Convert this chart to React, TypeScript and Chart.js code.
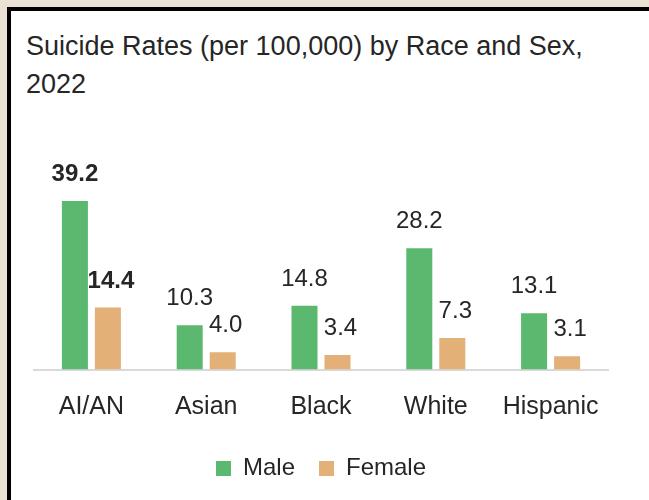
import React, { useEffect, useRef } from 'react';
import { Chart, registerables } from 'chart.js';

Chart.register(...registerables);

const categories = ['AI/AN', 'Asian', 'Black', 'White', 'Hispanic'];
const maleRates = [39.2, 10.3, 14.8, 28.2, 13.1];
const femaleRates = [14.4, 4.0, 3.4, 7.3, 3.1];
const seriesNames = ['Male', 'Female'];
const titleLines = ['Suicide Rates (per 100,000) by Race and Sex,', '2022'];
const highlightedCategories = ['AI/AN'];

const GREEN = '#5bb86f';
const TAN = '#e3b077';
const TEXT = '#262626';
const FONT = '"Liberation Sans", Arial, sans-serif';

const valueLabels = {
  id: 'valueLabels',
  afterDatasetsDraw(chart: any) {
    const ctx = chart.ctx;
    ctx.save();
    chart.data.datasets.forEach((ds: any, di: number) => {
      const meta = chart.getDatasetMeta(di);
      meta.data.forEach((bar: any, i: number) => {
        const v = ds.data[i] as number;
        const bold = highlightedCategories.includes(chart.data.labels[i]);
        ctx.font = `${bold ? 'bold ' : ''}24px ${FONT}`;
        ctx.fillStyle = TEXT;
        ctx.textAlign = 'center';
        ctx.textBaseline = 'alphabetic';
        ctx.fillText(v.toFixed(1), bar.x + (di === 1 ? 3 : 0), bar.y - 20);
      });
    });
    ctx.restore();
  },
};

export default function App() {
  const ref = useRef<HTMLCanvasElement | null>(null);

  useEffect(() => {
    if (!ref.current) return;
    const chart = new Chart(ref.current, {
      type: 'bar',
      data: {
        labels: categories,
        datasets: [
          {
            label: seriesNames[0],
            data: maleRates,
            backgroundColor: GREEN,
            borderWidth: 0,
            categoryPercentage: 0.575,
            barPercentage: 0.788,
          },
          {
            label: seriesNames[1],
            data: femaleRates,
            backgroundColor: TAN,
            borderWidth: 0,
            categoryPercentage: 0.575,
            barPercentage: 0.788,
          },
        ],
      },
      options: {
        animation: false,
        responsive: false,
        devicePixelRatio: 1,
        layout: { padding: { left: 34, right: 41, top: 176, bottom: 9.5 } },
        plugins: {
          legend: {
            position: 'bottom',
            labels: {
              boxWidth: 15,
              boxHeight: 15,
              padding: 24,
              color: TEXT,
              font: { family: FONT, size: 24 },
            },
          },
          tooltip: { enabled: false },
          title: { display: false },
        },
        scales: {
          x: {
            grid: { display: false, drawTicks: false },
            border: { color: '#d9d9d9', width: 2 },
            ticks: { color: TEXT, font: { family: FONT, size: 25 }, padding: 23 },
            afterFit: (s: any) => {
              s.height = 63;
            },
          },
          y: { display: false, min: 0, max: 45 },
        },
      },
      plugins: [valueLabels],
    } as any);
    return () => chart.destroy();
  }, []);

  return (
    <div
      style={{
        position: 'fixed',
        left: 0,
        top: 0,
        width: 649,
        height: 500,
        overflow: 'hidden',
        background: '#ece2d3',
      }}
    >
      <div
        style={{
          position: 'absolute',
          left: 7,
          top: 7,
          right: 0,
          bottom: 0,
          background: '#ffffff',
          borderLeft: '4px solid #000',
          borderTop: '4px solid #000',
        }}
      />
      <div
        style={{
          position: 'absolute',
          left: 26,
          top: 27,
          font: `27px ${FONT}`,
          lineHeight: '38px',
          color: TEXT,
          whiteSpace: 'nowrap',
        }}
      >
        {titleLines.map((t) => (
          <div key={t}>{t}</div>
        ))}
      </div>
      <canvas
        ref={ref}
        width={649}
        height={500}
        style={{ position: 'absolute', left: 0, top: 0, display: 'block' }}
      />
    </div>
  );
}
